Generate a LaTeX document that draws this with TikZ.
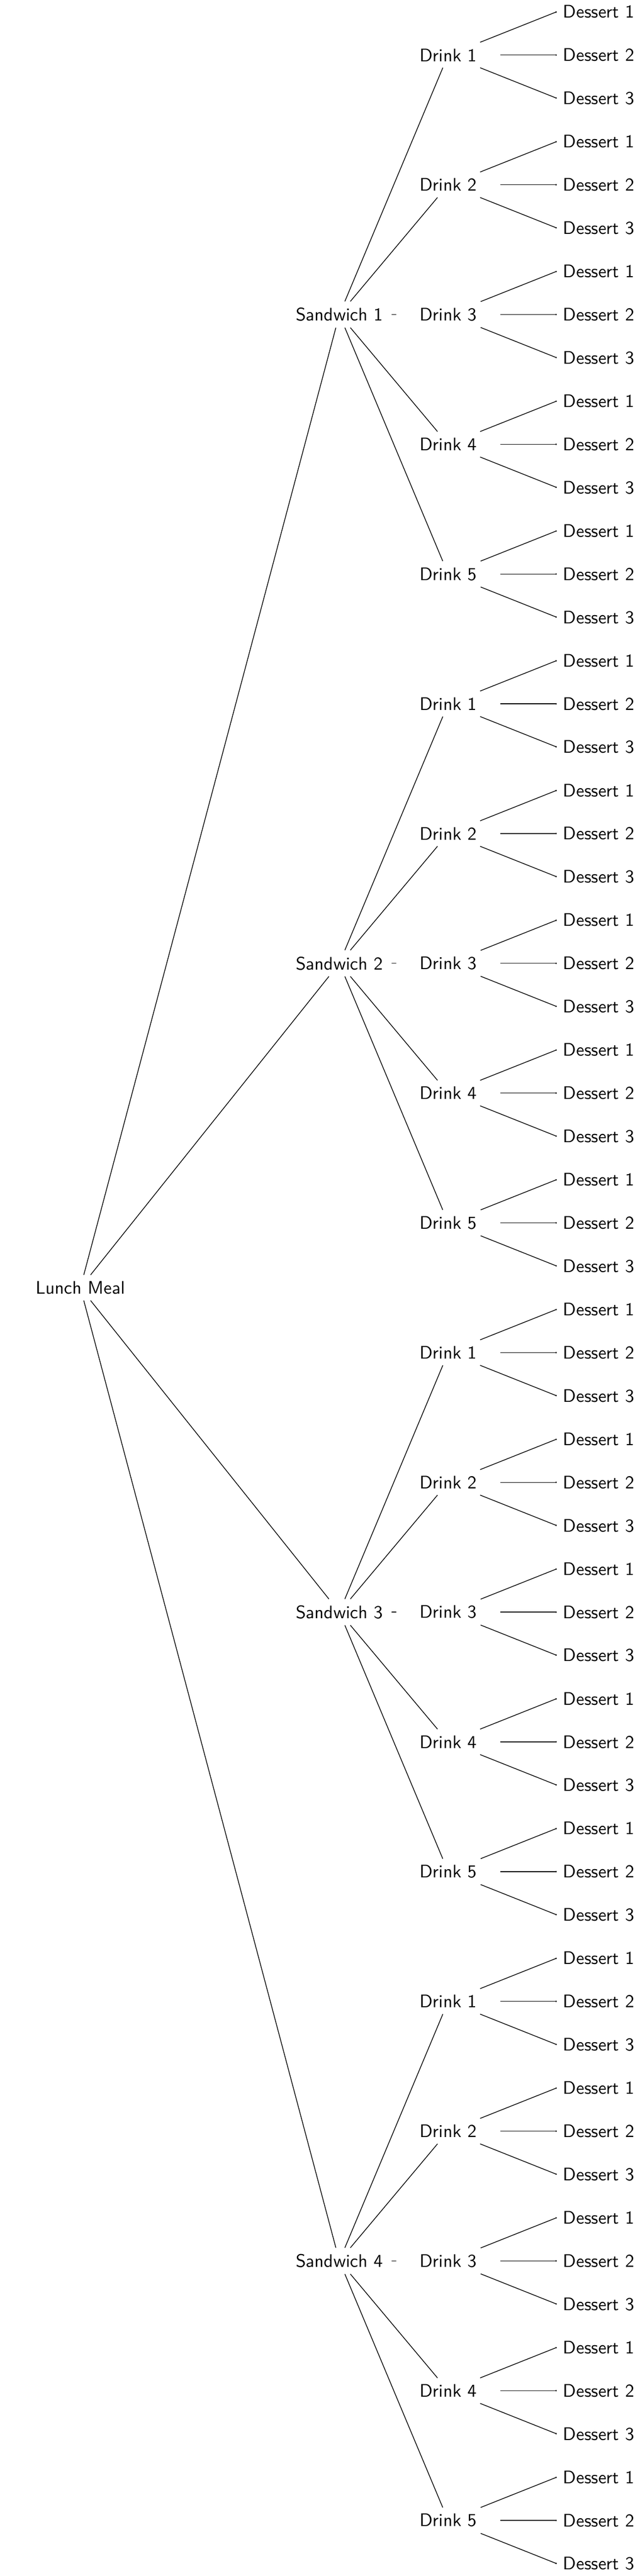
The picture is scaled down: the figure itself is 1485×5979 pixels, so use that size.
\documentclass[tikz,border=0pt]{standalone}
\usetikzlibrary{arrows.meta}
\begin{document}
\begin{tikzpicture}[x=0.23697pt,y=-0.23697pt, font=\sffamily, line width=0.4pt,
  midnode/.style={inner sep=0.3333em, minimum width=2cm},
  leafnode/.style={inner sep=0.3333em, anchor=west},
  dottip/.style={-{Circle[length=0.75pt]}}]
\useasboundingbox (0,0) rectangle (1485,5979);
\node[midnode] (L) at (186.5,2988.8) {Lunch Meal};
\foreach \k in {1,...,4}{
  \pgfmathsetmacro\ys{27.3+100.39*(15*(\k-1)+7)}
  \node[midnode] (s\k) at (787.5,\ys) {Sandwich \k};
  \draw (L) -- (s\k);
  \foreach \j in {1,...,5}{
    \pgfmathsetmacro\yd{27.3+100.39*(15*(\k-1)+3*(\j-1)+1)}
    \node[midnode] (d\k-\j) at (1040,\yd) {Drink \j};
    \draw (s\k) -- (d\k-\j);
    \foreach \i in {1,2,3}{
      \pgfmathsetmacro\ye{27.3+100.39*(15*(\k-1)+3*(\j-1)+\i-1)}
      \node[leafnode] (e\k-\j-\i) at (1292,\ye) {Dessert \i};
      \draw[dottip] (d\k-\j) -- (e\k-\j-\i.west);
    }
  }
}
\end{tikzpicture}
\end{document}
